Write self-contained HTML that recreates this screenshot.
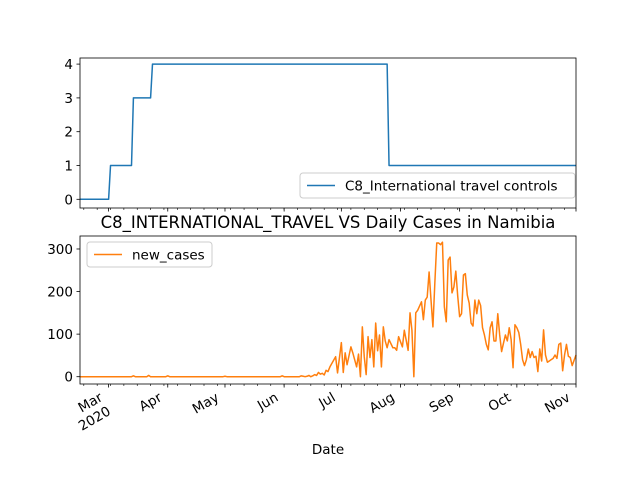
<!DOCTYPE html>
<html><head><meta charset="utf-8"><style>
html,body{margin:0;padding:0;background:#fff;}
svg{display:block;font-family:"DejaVu Sans","Liberation Sans",sans-serif;}
</style></head><body>
<svg id="chart" width="640" height="480" viewBox="0 0 640 480" xmlns="http://www.w3.org/2000/svg"></svg>
<script>
// ---- data (days offset from 2020-03-01) ----
const policyDays = [-15, 0, 1, 12, 13, 22, 23, 146, 147, 245];
const policyVals = [0, 0, 1, 1, 3, 3, 4, 4, 1, 1];
const caseDays = [-15,12,13,14,20,21,22,30,31,32,60,61,62,90,91,92,100,101,102,103,104,105,106,107,108,109,110,111,112,113,114,115,
116,119,120,122,123,124,125,127,128,130,131,132,133,134,135,136,137,138,139,140,141,142,143,144,145,146,147,149,150,151,152,154,155,157,158,159,160,161,162,164,165,166,167,168,169,170,171,172,
173,174,175,176,177,178,179,180,181,182,183,184,185,186,187,188,189,190,191,192,193,194,195,196,197,198,199,200,201,202,203,204,205,206,207,208,209,210,211,212,213,214,215,216,217,218,219,220,221,222,223,224,225,226,227,228,229,230,231,232,233,234,235,236,237,238,239,240,241,242,243,245];
const caseVals = [0,0,2,0,0,3,0,0,2,0,0,1,0,0,2,0,0,2,1,0,1,3,0,2,5,3,10,6,8,4,15,12,
23,47,9,80,10,56,28,70,56,23,53,0,117,47,5,94,45,87,23,126,61,98,23,117,84,68,87,68,68,62,94,70,109,62,150,109,0,150,156,176,134,180,187,246,180,117,220,314,
314,310,316,164,129,274,281,197,211,248,189,141,148,239,242,192,173,126,119,180,148,180,167,115,98,76,63,115,129,84,84,148,98,59,79,98,84,115,87,21,122,115,104,76,40,26,40,65,45,59,45,48,12,65,37,110,51,34,37,40,43,51,43,76,79,14,51,76,48,45,26,51];
const monthDays = [0, 31, 61, 92, 122, 153, 184, 214, 245];
const monthLabels = ["Mar", "Apr", "May", "Jun", "Jul", "Aug", "Sep", "Oct", "Nov"];
const policyTicks = [0, 1, 2, 3, 4];
const caseTicks = [0, 100, 200, 300];

const NS = "http://www.w3.org/2000/svg";
const svg = document.getElementById("chart");
function el(tag, attrs, parent) {
  const e = document.createElementNS(NS, tag);
  for (const k in attrs) e.setAttribute(k, attrs[k]);
  (parent || svg).appendChild(e);
  return e;
}
const L = 80, R = 576;
const D0 = -15, D1 = 245;
const x = d => L + (d - D0) / (D1 - D0) * (R - L);
const T1 = 58, B1 = 208, T2 = 236, B2 = 384;
const y1 = v => 199.3 - v * 33.8;
const y2 = v => 376.7 - v * 0.4257;

function axisBox(top, bot, name) {
  const r = el("rect", {x: L, y: top, width: R - L, height: bot - top, fill: "none", stroke: "#000", "stroke-width": 0.8});
  
  
}
function xTicks(bot, withLabels) {
  for (let d = 1 - 14; d <= D1; d += 7) {
    if (d < D0) continue;
    el("line", {x1: x(d), x2: x(d), y1: bot, y2: bot + 2, stroke: "#000", "stroke-width": 0.6});
  }
  monthDays.forEach((d, i) => {
    el("line", {x1: x(d), x2: x(d), y1: bot, y2: bot + 3.5, stroke: "#000", "stroke-width": 0.8});
    if (withLabels) {
      const px = x(d) - 5, py = bot + 16;
      const t = el("text", {x: px, y: py, "font-size": 13.5, "text-anchor": "end", transform: `rotate(-30 ${px} ${py})`});
      
      
      t.textContent = monthLabels[i];
      if (i === 0) {
        const t2 = el("text", {x: px, y: py + 16, "font-size": 13.5, "text-anchor": "end", transform: `rotate(-30 ${px} ${py})`});
        
        
        t2.textContent = "2020";
      }
    }
  });
}
function yTicks(ticks, fy) {
  ticks.forEach(v => {
    el("line", {x1: L - 3.5, x2: L, y1: fy(v), y2: fy(v), stroke: "#000", "stroke-width": 0.8});
    const t = el("text", {x: L - 7, y: fy(v) + 5, "font-size": 13.5, "text-anchor": "end"});
    
    
    t.textContent = v;
  });
}
function line(days, vals, fy, color, name) {
  const p = el("polyline", {points: days.map((d, i) => x(d) + "," + fy(vals[i])).join(" "), fill: "none", stroke: color, "stroke-width": 1.5, "stroke-linejoin": "round"});
  
  
}
function legend(lx, ly, w, color, label, name) {
  const g = el("g", {});
  
  
  el("rect", {x: lx, y: ly, width: w, height: 25, rx: 3, fill: "#fff", "fill-opacity": 0.8, stroke: "#ccc"}, g);
  el("line", {x1: lx + 7, x2: lx + 35, y1: ly + 12.5, y2: ly + 12.5, stroke: color, "stroke-width": 1.5}, g);
  const t = el("text", {x: lx + 45, y: ly + 17.5, "font-size": 13.5}, g);
  t.textContent = label;
}

// top axes
line(policyDays, policyVals, y1, "#1f77b4", "policy-line");
axisBox(T1, B1, "top-axes");
xTicks(B1, false);
yTicks(policyTicks, y1);
legend(300, 173, 275, "#1f77b4", "C8_International travel controls", "top-legend");

// bottom axes
line(caseDays, caseVals, y2, "#ff7f0e", "cases-line");
axisBox(T2, B2, "bottom-axes");
xTicks(B2, true);
yTicks(caseTicks, y2);
legend(87, 242, 125, "#ff7f0e", "new_cases", "bottom-legend");

const title = el("text", {x: 328, y: 228, "font-size": 16.5, "text-anchor": "middle"});


title.textContent = "C8_INTERNATIONAL_TRAVEL VS Daily Cases in Namibia";
const xt = el("text", {x: 328, y: 454, "font-size": 13.5, "text-anchor": "middle"});


xt.textContent = "Date";
</script>
</body></html>
